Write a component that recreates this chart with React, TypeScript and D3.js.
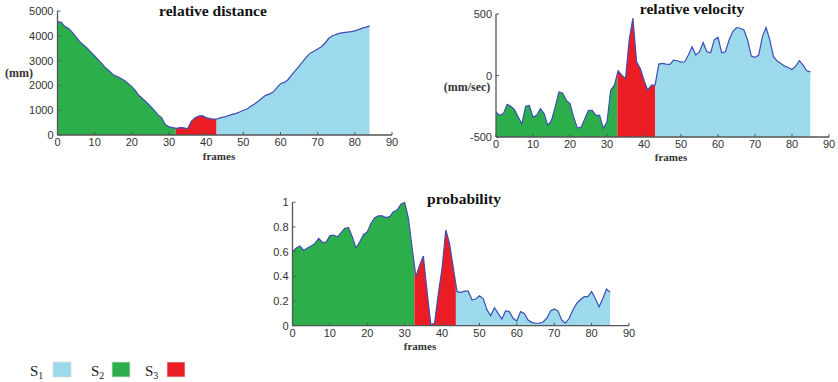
import React from 'react';
import * as d3 from 'd3';

// frames 0..84 / 0..85
const distance = [
  4570, 4540, 4370, 4290, 4140, 3960, 3760, 3630, 3500, 3340,
  3185, 3030, 2870, 2700, 2570, 2430, 2370, 2290, 2200, 2080,
  1950, 1780, 1580, 1450, 1310, 1160, 1000, 820, 700, 420,
  330, 300, 270, 300, 290, 250, 550, 700, 760, 780,
  700, 660, 640, 650, 700, 730, 780, 830, 870, 930,
  1000, 1050, 1160, 1250, 1360, 1480, 1600, 1650, 1730, 1900,
  2070, 2120, 2230, 2420, 2600, 2780, 2960, 3150, 3300, 3380,
  3470, 3560, 3710, 3900, 4000, 4060, 4110, 4130, 4150, 4170,
  4200, 4250, 4310, 4350, 4400,
];

const velocity = [
  -297, -324, -310, -234, -250, -278, -338, -392, -250, -243,
  -338, -324, -270, -310, -406, -365, -256, -134, -142, -202,
  -229, -338, -428, -420, -352, -283, -283, -324, -324, -428,
  -379, -120, -79, 38, 3, -25, 289, 466, 112, 57,
  -38, -120, -79, -79, 93, 98, 93, 90, 125, 120,
  109, 112, 166, 234, 166, 193, 267, 193, 185, 289,
  311, 185, 193, 289, 357, 390, 384, 371, 289, 158,
  147, 166, 316, 390, 289, 153, 117, 98, 76, 65,
  49, 76, 120, 84, 38, 30,
];

const probability = [
  0.6, 0.63, 0.646, 0.61, 0.63, 0.646, 0.667, 0.708, 0.676, 0.676,
  0.73, 0.735, 0.72, 0.754, 0.79, 0.795, 0.72, 0.63, 0.68, 0.74,
  0.76, 0.83, 0.876, 0.89, 0.89, 0.876, 0.884, 0.924, 0.938, 0.984,
  1.0, 0.87, 0.63, 0.4, 0.49, 0.565, 0.276, 0.01, 0.02, 0.26,
  0.465, 0.776, 0.667, 0.47, 0.276, 0.27, 0.28, 0.28, 0.21, 0.216,
  0.243, 0.22, 0.13, 0.08, 0.146, 0.1, 0.054, 0.119, 0.114, 0.06,
  0.038, 0.114, 0.1, 0.046, 0.027, 0.02, 0.02, 0.03, 0.06, 0.119,
  0.135, 0.12, 0.046, 0.02, 0.06, 0.127, 0.18, 0.21, 0.235, 0.235,
  0.276, 0.22, 0.154, 0.22, 0.297, 0.27,
];

// segment boundaries (frames) where the colour changes: S2 -> S3 -> S1
const distanceSplits = [31.8, 42.8];
const velocitySplits = [32.8, 43];
const probabilitySplits = [32.6, 43.7];

const xTicks = [0, 10, 20, 30, 40, 50, 60, 70, 80, 90];
const distanceTicks = [0, 1000, 2000, 3000, 4000, 5000];
const velocityTicks = [-500, 0, 500];
const probabilityTicks = [0, 0.2, 0.4, 0.6, 0.8, 1];

const legend = [
  { name: 'S', sub: '1', color: '#9dd9ec' },
  { name: 'S', sub: '2', color: '#2caf4b' },
  { name: 'S', sub: '3', color: '#ec1c24' },
];

const S1 = '#9dd9ec';
const S2 = '#2caf4b';
const S3 = '#ec1c24';
const LINE = '#3d4fb3';
const AXIS = '#555';
const SERIF = '"Liberation Serif", "DejaVu Serif", serif';
const SANS = '"Liberation Sans", Arial, sans-serif';

type PanelProps = {
  id: string;
  data: number[];
  splits: number[];
  yDomain: [number, number];
  yTicks: number[];
  xRange: [number, number];
  yRange: [number, number];
  title: string;
  titleX: number;
  titleY: number;
  unit?: string;
  unitX?: number;
  unitY?: number;
  framesX: number;
  framesY: number;
};

const Panel = (p: PanelProps) => {
  const x = d3.scaleLinear().domain([0, 90]).range(p.xRange);
  const y = d3.scaleLinear().domain(p.yDomain).range(p.yRange);
  const pts = p.data.map((v, i) => [i, v] as [number, number]);
  const area = d3.area<[number, number]>()
    .x(d => x(d[0]))
    .y0(y(p.yDomain[0]))
    .y1(d => y(d[1]));
  const line = d3.line<[number, number]>().x(d => x(d[0])).y(d => y(d[1]));
  const last = p.data.length - 1;
  const segs = [
    { a: 0, b: p.splits[0], c: S2 },
    { a: p.splits[0], b: p.splits[1], c: S3 },
    { a: p.splits[1], b: last, c: S1 },
  ];
  const top = p.yRange[1];
  const bottom = p.yRange[0];
  const fmt = (v: number) => (p.yDomain[1] === 1 ? d3.format('~g')(v) : String(v));
  return (
    <g>
      <defs>
        {segs.map((s, i) => (
          <clipPath id={`${p.id}-clip${i}`} key={i}>
            <rect x={x(s.a)} y={top - 5} width={x(s.b) - x(s.a)} height={bottom - top + 5} />
          </clipPath>
        ))}
      </defs>
      {segs.map((s, i) => (
        <path key={i} d={area(pts) || ''} fill={s.c} clipPath={`url(#${p.id}-clip${i})`} />
      ))}
      <path d={line(pts) || ''} fill="none" stroke={LINE} strokeWidth={1.2} />
      {/* axes */}
      <line x1={x(0)} x2={x(90)} y1={bottom} y2={bottom} stroke={AXIS} strokeWidth={1.3} />
      <line x1={x(0)} x2={x(0)} y1={bottom} y2={top} stroke={AXIS} strokeWidth={1.3} />
      {xTicks.map(t => (
        <g key={t}>
          <line x1={x(t)} x2={x(t)} y1={bottom} y2={bottom - 3} stroke={AXIS} />
          <text x={x(t)} y={bottom + 11} textAnchor="middle" fontFamily={SANS} fontSize={11} fill="#333">{t}</text>
        </g>
      ))}
      {p.yTicks.map(t => (
        <g key={t}>
          <line x1={x(0)} x2={x(0) + 3} y1={y(t)} y2={y(t)} stroke={AXIS} />
          <text x={x(0) - 4} y={y(t) + 4} textAnchor="end" fontFamily={SANS} fontSize={11} fill="#333">{fmt(t)}</text>
        </g>
      ))}
      <text x={p.titleX} y={p.titleY} textAnchor="middle" fontFamily={SERIF} fontWeight="bold" fontSize={15.5} fill="#111">{p.title}</text>
      <text x={p.framesX} y={p.framesY} textAnchor="middle" fontFamily={SERIF} fontWeight="bold" fontSize={11} fill="#333">frames</text>
      {p.unit && (
        <text x={p.unitX} y={p.unitY} textAnchor="middle" fontFamily={SERIF} fontWeight="bold" fontSize={12} fill="#333">{p.unit}</text>
      )}
    </g>
  );
};

export default function App() {
  return (
    <svg width={838} height={382} style={{ position: 'absolute', left: 0, top: 0, background: '#fff' }}>
      <Panel id="dist" data={distance} splits={distanceSplits} yDomain={[0, 5000]} yTicks={distanceTicks}
        xRange={[57.5, 392]} yRange={[135, 11]} title="relative distance" titleX={213} titleY={16}
        unit="(mm)" unitX={19} unitY={77} framesX={219} framesY={160} />
      <Panel id="vel" data={velocity} splits={velocitySplits} yDomain={[-500, 500]} yTicks={velocityTicks}
        xRange={[496, 829]} yRange={[137, 14]} title="relative velocity" titleX={692} titleY={14}
        unit="(mm/sec)" unitX={467} unitY={91} framesX={671} framesY={161} />
      <Panel id="prob" data={probability} splits={probabilitySplits} yDomain={[0, 1]} yTicks={probabilityTicks}
        xRange={[292.5, 629]} yRange={[325.7, 202.3]} title="probability" titleX={464} titleY={204}
        framesX={420} framesY={350} />
      {legend.map((l, i) => {
        const tx = [30, 91, 145][i];
        const bx = [53, 112, 167][i];
        return (
          <g key={i}>
            <text x={tx} y={376} fontFamily={SERIF} fontSize={15} fill="#222">
              {l.name}<tspan fontSize={10} dy={3}>{l.sub}</tspan>
            </text>
            <rect x={bx} y={362} width={18} height={15} fill={l.color} stroke="#ddd" strokeWidth={0.8} />
          </g>
        );
      })}
    </svg>
  );
}
